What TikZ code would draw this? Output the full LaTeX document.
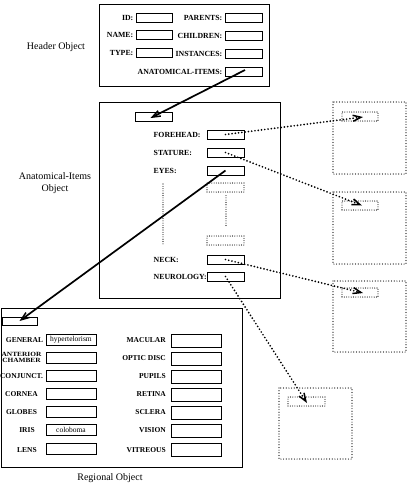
\documentclass[tikz,border=0pt]{standalone}
\usepackage{fontspec}
\setmainfont{Liberation Serif}
\usetikzlibrary{arrows.meta,calc}
\begin{document}
\begin{tikzpicture}[x=1pt,y=-1pt,
  frame/.style={draw,line width=1pt},
  fld/.style={draw,line width=1pt,inner sep=0pt,minimum width=#1,minimum height=9pt},
  fld/.default=37pt,
  dfld/.style={draw,line width=1.1pt,dash pattern=on 0pt off 2.3pt,line cap=round,inner sep=0pt,minimum width=37pt,minimum height=9pt},
  dframe/.style={draw,line width=1.2pt,dash pattern=on 0pt off 2.7pt,line cap=round},
  dline/.style={line width=1.1pt,dash pattern=on 0pt off 2.3pt,line cap=round},
  lbl/.style={font=\bfseries\fontsize{7.8}{7.8}\selectfont,inner sep=0.5pt},
  rlbl/.style={font=\bfseries\fontsize{7.5}{7.5}\selectfont,inner sep=0pt},
  ftxt/.style={font=\fontsize{7.5}{7.5}\selectfont,inner sep=0pt},
  ttl/.style={font=\fontsize{10}{12}\selectfont,align=center,inner sep=0pt},
  solidarrow/.style={line width=1.7pt,-{Straight Barb[length=8pt,width=6pt,line width=1.5pt]}},
  dotarrow/.style={line width=1.9pt,dash pattern=on 0pt off 3.3pt,line cap=round,-{Straight Barb[length=8pt,width=6pt,line width=1.5pt]}}
]
\useasboundingbox (0,0) rectangle (409,488);
% ---------------- Header object
\node[ttl] (htitle) at (56,47) {Header Object};
\draw[frame] (99,4) rectangle (269,86);
\node[fld=36pt] (idb) at (154,17.5) {};
\node[fld] (parb) at (243.5,17.5) {};
\node[fld=36pt] (nameb) at (154,35) {};
\node[fld] (chib) at (243.5,35.5) {};
\node[fld=36pt] (typeb) at (154,53) {};
\node[fld] (insb) at (243.5,53.5) {};
\node[fld] (aib) at (243.5,71.5) {};
\node[lbl,anchor=east] (idl) at (134,17.5) {ID:};
\node[lbl,anchor=east] (parl) at (223,17.5) {PARENTS:};
\node[lbl,anchor=east] (namel) at (134,35) {NAME:};
\node[lbl,anchor=east] (chil) at (223,35.5) {CHILDREN:};
\node[lbl,anchor=east] (typel) at (134,53) {TYPE:};
\node[lbl,anchor=east] (insl) at (223,53.5) {INSTANCES:};
\node[lbl,anchor=east] (ail) at (223,71.5) {ANATOMICAL-ITEMS:};
% ---------------- Anatomical-items object
\node[ttl] (atitle) at (55,183) {Anatomical-Items\\Object};
\draw[frame] (99,102) rectangle (280,298);
\node[fld] (aitop) at (153.5,116.5) {};
\node[fld] (foreb) at (225.5,134.5) {};
\node[fld] (statb) at (225.5,152.5) {};
\node[fld] (eyesb) at (225.5,170.5) {};
\node[dfld] (dotb1) at (225.5,187.5) {};
\node[dfld] (dotb2) at (225.5,240.5) {};
\node[fld] (neckb) at (225.5,259.5) {};
\node[fld] (neurb) at (225.5,276.5) {};
\node[lbl,anchor=west] (forel) at (153,134.5) {FOREHEAD:};
\node[lbl,anchor=west] (statl) at (153,152.5) {STATURE:};
\node[lbl,anchor=west] (eyesl) at (153,170.5) {EYES:};
\node[lbl,anchor=west] (neckl) at (153,259.5) {NECK:};
\node[lbl,anchor=west] (neurl) at (153,276.5) {NEUROLOGY:};
\coordinate (vl1a) at (163,184);
\coordinate (vl1b) at (163,245);
\draw[dline] (vl1a) -- (vl1b);
\draw[dline] (dotb1.south) ++(0.5,3) -- ($(dotb2.north)+(0.5,-9)$);
% ---------------- Right dotted objects
\draw[dframe] (333,102) rectangle (406,174);
\draw[dframe] (333,192) rectangle (406,264);
\draw[dframe] (333,281) rectangle (406,352);
\draw[dframe] (279,388) rectangle (352,459);
\node[dfld,minimum width=36pt] (in1) at (360,116.5) {};
\node[dfld,minimum width=36pt] (in2) at (360,205.5) {};
\node[dfld,minimum width=36pt] (in3) at (360,292.5) {};
\node[dfld,minimum width=37pt] (in4) at (306.5,401.5) {};
% ---------------- Regional object
\draw[frame] (1,308) rectangle (242,467);
\node[fld=35pt,minimum height=8pt] (rtop) at (19.5,321) {};
\node[ttl] (rtitle) at (110,478) {Regional Object};
\foreach \n/\y in {gen/339.5,ant/357.5,con/375.5,cor/393.5,glo/411.5,iri/429.5,len/448.5}{
  \node[fld=50pt,minimum height=11pt] (\n b) at (71,\y) {};
}
\foreach \n/\y in {mac/340.5,opt/358.5,pup/376.5,ret/394.5,scl/412.5,vis/430.5,vit/449.5}{
  \node[fld=50pt,minimum height=13pt] (\n b) at (196,\y) {};
}
\node[ftxt] (gentxt) at (genb.center) {hypertelorism};
\node[ftxt] (iritxt) at (irib.center) {coloboma};
\node[rlbl] (genl) at (24.5,340.5) {GENERAL};
\node[rlbl,align=center,font=\bfseries\fontsize{6.4}{5.6}\selectfont] (antl) at (21.5,357.5) {\scalebox{1.15}[1]{ANTERIOR}\\\scalebox{1.15}[1]{CHAMBER}};
\node[rlbl] (conl) at (21.5,376) {CONJUNCT.};
\node[rlbl] (corl) at (21.5,394) {CORNEA};
\node[rlbl] (glol) at (21.5,412) {GLOBES};
\node[rlbl] (iril) at (27,430) {IRIS};
\node[rlbl] (lenl) at (27,450) {LENS};
\node[rlbl,anchor=east] (macl) at (166,340.5) {MACULAR};
\node[rlbl,anchor=east] (optl) at (166,358.5) {OPTIC DISC};
\node[rlbl,anchor=east] (pupl) at (166,376.5) {PUPILS};
\node[rlbl,anchor=east] (retl) at (166,394.5) {RETINA};
\node[rlbl,anchor=east] (scll) at (166,412.5) {SCLERA};
\node[rlbl,anchor=east] (visl) at (166,430.5) {VISION};
\node[rlbl,anchor=east] (vitl) at (166,450) {VITREOUS};
% ---------------- Connectors
\draw[solidarrow] ($(aib.center)+(1.5,-1.5)$) -- ($(aitop.center)+(-3,1.5)$);
\draw[solidarrow] (eyesb.center) -- (rtop.center);
\draw[dotarrow] (foreb.center) -- ($(in1.center)+(3,0.5)$);
\draw[dotarrow] (statb.center) -- ($(in2.center)+(2,0)$);
\draw[dotarrow] (neckb.center) -- ($(in3.center)+(3,0.5)$);
\draw[dotarrow] (neurb.center) -- ($(in4.center)+(0.5,1.5)$);
\end{tikzpicture}
\end{document}
